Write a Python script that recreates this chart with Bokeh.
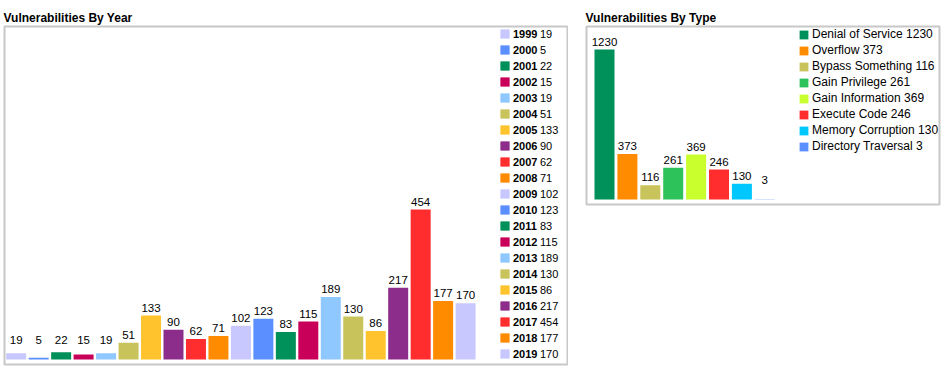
from bokeh.plotting import figure
from bokeh.layouts import row
from bokeh.models import ColumnDataSource, Range1d, Legend, LegendItem
from bokeh.core.properties import value
from bokeh.embed import file_html
from bokeh.resources import INLINE
import numpy as np

# ---------------- data ----------------
years = ["1999", "2000", "2001", "2002", "2003", "2004", "2005", "2006", "2007", "2008",
         "2009", "2010", "2011", "2012", "2013", "2014", "2015", "2016", "2017", "2018", "2019"]
year_counts = [19, 5, 22, 15, 19, 51, 133, 90, 62, 71,
               102, 123, 83, 115, 189, 130, 86, 217, 454, 177, 170]

types = ["Denial of Service", "Overflow", "Bypass Something", "Gain Privilege",
         "Gain Information", "Execute Code", "Memory Corruption", "Directory Traversal"]
type_counts = [1230, 373, 116, 261, 369, 246, 130, 3]

# ---------------- styles ----------------
year_palette = ["#c8c8ff", "#5b8fff", "#00905a", "#c8005a", "#8fc8ff",
                "#c8c35a", "#ffc32d", "#8c2d8c", "#ff2d2d", "#ff8c00"]
type_palette = ["#00905a", "#ff8c00", "#c8c35a", "#2dc35a",
                "#c8ff2d", "#ff2d2d", "#00c8ff", "#5b8fff"]
FONT = "Liberation Sans"
BORDER = "#c8c8c8"
BAR_PX = 150.0  # height in px of the tallest bar


def make_chart(title, cats, counts, colors, frame_w, frame_h, first_c, pitch, bar_w,
               border_left, border_right):
    n = len(cats)
    idx = list(range(n))
    vmax = max(counts)
    per_px = vmax / BAR_PX
    base_px = 5.0
    y0 = -base_px * per_px
    y1 = (frame_h - base_px) * per_px
    x0 = -first_c / pitch
    x1 = (frame_w - first_c) / pitch
    p = figure(frame_width=frame_w, frame_height=frame_h,
               x_range=Range1d(x0, x1), y_range=Range1d(y0, y1),
               x_axis_location=None, y_axis_location=None,
               toolbar_location=None, output_backend="svg",
               min_border_left=border_left, min_border_right=border_right,
               min_border_top=26, min_border_bottom=2,
               background_fill_color="white", border_fill_color="white",
               outline_line_color=BORDER, outline_line_width=2,
               title=title)
    p.title.text_font = FONT
    p.title.text_font_size = "12px"
    p.title.text_font_style = "bold"
    p.title.text_color = "black"
    p.title.standoff = 4
    p.title.offset = -1
    p.grid.visible = False
    label_y = np.maximum(np.array(counts, dtype=float), 12 * per_px)
    src = ColumnDataSource(dict(x=idx, top=counts, color=[colors[i % len(colors)] for i in idx],
                                ly=label_y, txt=[str(c) for c in counts], cat=cats))
    r = p.vbar(x="x", top="top", bottom=0, width=bar_w / pitch, fill_color="color",
               line_color=None, source=src)
    p.text(x="x", y="ly", text="txt", source=src, text_font=value(FONT),
           text_font_size=value("11.5px"), text_align="center", text_baseline="bottom",
           text_color="black", y_offset=-4)
    return p, r


# ---------- left: by year ----------
p1, r1 = make_chart("Vulnerabilities By Year", years, year_counts, year_palette,
                    frame_w=563, frame_h=338, first_c=11.7, pitch=22.47, bar_w=20,
                    border_left=4, border_right=1)

items_a = [LegendItem(label=y, renderers=[r1], index=i) for i, y in enumerate(years)]
items_b = [LegendItem(label=str(c), renderers=[r1], index=i) for i, c in enumerate(year_counts)]
for items, standoff, style in ((items_a, 3, "bold"), (items_b, 30, "normal")):
    lg = Legend(items=items, location=(495, 4), padding=0, margin=0, spacing=3,
                glyph_width=11, glyph_height=11, label_height=13, label_standoff=standoff,
                label_text_font=FONT, label_text_font_size="11px",
                label_text_font_style=style, label_text_color="black",
                background_fill_alpha=0, border_line_color=None)
    p1.add_layout(lg, "center")

# ---------- right: by type ----------
p2, r2 = make_chart("Vulnerabilities By Type", types, type_counts, type_palette,
                    frame_w=353, frame_h=178, first_c=18, pitch=22.9, bar_w=20,
                    border_left=18, border_right=2)

items_c = [LegendItem(label=f"{t} {c}", renderers=[r2], index=i)
           for i, (t, c) in enumerate(zip(types, type_counts))]
lg2 = Legend(items=items_c, location=(212, 51), padding=0, margin=0, spacing=2,
             glyph_width=11, glyph_height=11, label_height=14, label_standoff=3,
             label_text_font=FONT, label_text_font_size="12px",
             label_text_color="black", background_fill_alpha=0, border_line_color=None)
p2.add_layout(lg2, "center")

layout = row(p1, p2)
open("out.html", "w").write(file_html(layout, INLINE))
